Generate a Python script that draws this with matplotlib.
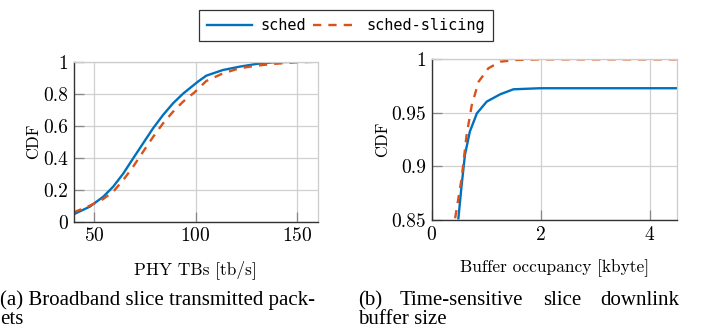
import numpy as np
import matplotlib
matplotlib.use('Agg')
import matplotlib.pyplot as plt

plt.rcParams['axes.formatter.use_mathtext'] = True

# (a) broadband slice, PHY TBs CDF
tbs_x_sched = [40, 48, 54.6, 59.5, 64.4, 69.3, 74.2, 79.1, 84, 88.9, 93.8, 97.1,
               101.1, 105.2, 113.4, 121.6, 129.8, 137.9, 149, 160]
tbs_sched = [0.046, 0.094, 0.156, 0.219, 0.30, 0.396, 0.49, 0.584, 0.667, 0.74, 0.80, 0.834,
             0.875, 0.9125, 0.948, 0.969, 0.986, 0.996, 1.0, 1.0]
tbs_x_slicing = [40, 48, 54.6, 59.5, 64.4, 69.3, 74.2, 79.1, 84, 88.9, 93.8, 99.5,
                 105.2, 113.4, 121.6, 129.8, 137.9, 149.3, 160]
tbs_slicing = [0.058, 0.10, 0.142, 0.1875, 0.26, 0.344, 0.4375, 0.53, 0.615, 0.6875, 0.75, 0.809,
               0.879, 0.927, 0.959, 0.975, 0.986, 0.996, 1.0]

# (b) time-sensitive slice, buffer occupancy CDF
buf_x_sched = [0.49, 0.55, 0.61, 0.70, 0.83, 1.01, 1.26, 1.5, 1.99, 4.5]
buf_sched = [0.8516, 0.8827, 0.9107, 0.9325, 0.9496, 0.9605, 0.9674, 0.972, 0.973, 0.973]
buf_x_slicing = [0.43, 0.55, 0.64, 0.735, 0.86, 1.04, 1.26, 1.56, 2.0, 4.5]
buf_slicing = [0.8516, 0.889, 0.929, 0.957, 0.979, 0.9916, 0.9978, 0.9994, 1.0, 1.0]

blue = '#0072BD'
red = '#D95319'
tickfont = 'cmr10'
capfont = 'Liberation Serif'

fig = plt.figure(figsize=(7.09, 3.30), dpi=100)
ax1 = fig.add_axes([0.1037, 0.3282, 0.3444, 0.4848])
ax2 = fig.add_axes([0.6089, 0.3333, 0.3456, 0.4870])

ax1.plot(tbs_x_sched, tbs_sched, color=blue, lw=1.7, label='sched')
ax1.plot(tbs_x_slicing, tbs_slicing, color=red, lw=1.7, ls=(0, (3.5, 3)), label='sched-slicing')
ax1.set_xlim(40, 160)
ax1.set_ylim(0, 1)
ax1.set_xticks([50, 100, 150])
ax1.set_yticks([0, 0.2, 0.4, 0.6, 0.8, 1])
ax1.set_yticklabels(['0', '0.2', '0.4', '0.6', '0.8', '1'])
ax1.set_xlabel('PHY TBs [tb/s]', family=tickfont, fontsize=12.5, labelpad=11)
ax1.set_ylabel('CDF', family=tickfont, fontsize=12, labelpad=1)

ax2.plot(buf_x_sched, buf_sched, color=blue, lw=1.7)
ax2.plot(buf_x_slicing, buf_slicing, color=red, lw=1.7, ls=(0, (3.5, 3)))
ax2.set_xlim(0, 4.5)
ax2.set_ylim(0.85, 1)
ax2.set_xticks([0, 2, 4])
ax2.set_yticks([0.85, 0.9, 0.95, 1])
ax2.set_yticklabels(['0.85', '0.9', '0.95', '1'])
ax2.set_xlabel('Buffer occupancy [kbyte]', family=tickfont, fontsize=12.5, labelpad=11)
ax2.set_ylabel('CDF', family=tickfont, fontsize=12, labelpad=1)

for ax in (ax1, ax2):
    ax.grid(True, color='#d0d0d0', lw=0.9)
    ax.set_axisbelow(True)
    ax.tick_params(direction='in', length=7, width=0.9, color='#888888', pad=4)
    for lab in ax.get_xticklabels() + ax.get_yticklabels():
        lab.set_family(tickfont)
        lab.set_fontsize(14)
    for s in ('left', 'bottom'):
        ax.spines[s].set_color('#333333')
        ax.spines[s].set_linewidth(1.0)
    for s in ('top', 'right'):
        ax.spines[s].set_color('#cccccc')
        ax.spines[s].set_linewidth(0.9)

leg = fig.legend(*ax1.get_legend_handles_labels(), loc='center', bbox_to_anchor=(0.488, 0.9227),
                 ncol=2, prop={'family': 'DejaVu Sans Mono', 'size': 11}, fancybox=False,
                 edgecolor='#333333', handlelength=2.9, columnspacing=0.4, handletextpad=0.6,
                 borderpad=0.55, framealpha=1)
leg.get_frame().set_linewidth(0.9)

# captions
capsize = 15
fig.text(0.0, 1 - 305 / 330, '(a) Broadband slice transmitted pack-', family=capfont, fontsize=capsize, va='baseline')
fig.text(0.0, 1 - 324 / 330, 'ets', family=capfont, fontsize=capsize, va='baseline')
cap_b = ['(b)', 'Time-sensitive', 'slice', 'downlink']
cap_b_x = [358, 400, 543, 600]
for w, xp in zip(cap_b, cap_b_x):
    fig.text(xp / 709, 1 - 305 / 330, w, family=capfont, fontsize=capsize, va='baseline')
fig.text(358 / 709, 1 - 324 / 330, 'buffer size', family=capfont, fontsize=capsize, va='baseline')

fig.savefig('out.png', dpi=100)
